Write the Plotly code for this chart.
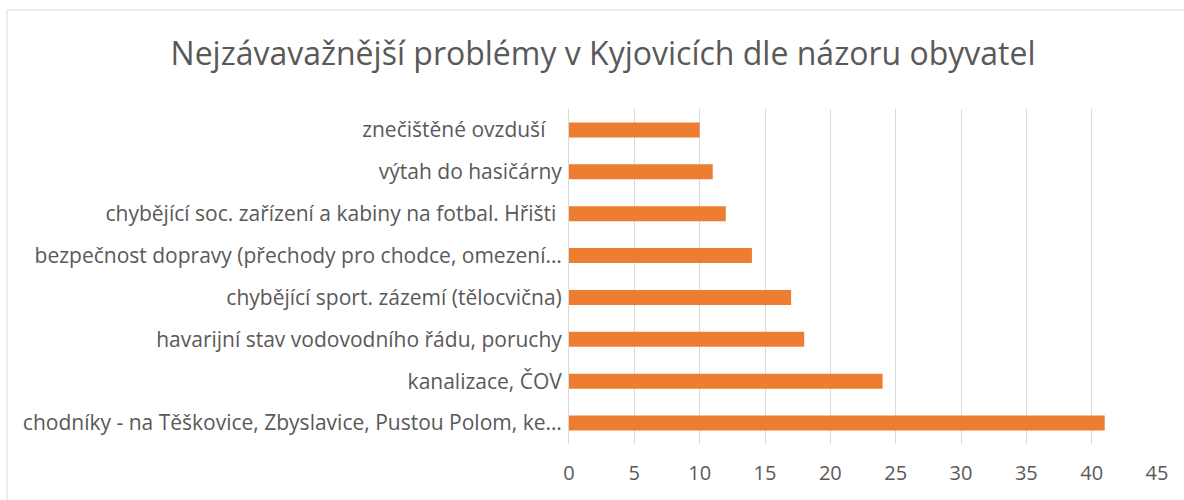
import plotly.graph_objects as go

categories = [
    "chodníky - na Těškovice, Zbyslavice, Pustou Polom, ke…",
    "kanalizace, ČOV",
    "havarijní stav vodovodního řádu, poruchy",
    "chybějící sport. zázemí (tělocvična)",
    "bezpečnost dopravy (přechody pro chodce, omezení…",
    "chybějící soc. zařízení a kabiny na fotbal. Hřišti\u00a0",
    "výtah do hasičárny",
    "znečištěné ovzduší\u00a0\u00a0\u00a0",
]
values = [41, 24, 18, 17, 14, 12, 11, 10]
x_ticks = [0, 5, 10, 15, 20, 25, 30, 35, 40, 45]

title = "Nejzávavažnější problémy v Kyjovicích dle názoru obyvatel"

fig = go.Figure(
    go.Bar(
        x=values,
        y=categories,
        orientation="h",
        marker=dict(color="#ED7D31", line=dict(width=0)),
        hoverinfo="x+y",
    )
)

W, H = 1184, 500
L, R, T, B = 569, 27, 109, 56
pw, ph = W - L - R, H - T - B

def px_x(p):
    return (p - L) / pw

def px_y(p):
    return (H - B - p) / ph

FONT = "Open Sans, Noto Sans, sans-serif"

fig.update_layout(
    width=W,
    height=H,
    margin=dict(l=L, r=R, t=T, b=B, pad=0),
    paper_bgcolor="white",
    plot_bgcolor="white",
    bargap=0.64,
    showlegend=False,
    font=dict(family=FONT, color="#595959", size=21),
    title=dict(
        text=title,
        x=603 / W,
        xanchor="center",
        y=1 - 54 / H,
        yanchor="middle",
        font=dict(size=32, color="#595959", family=FONT),
    ),
    xaxis=dict(
        range=[0, 45],
        tickvals=x_ticks,
        showgrid=True,
        gridcolor="#D9D9D9",
        gridwidth=1,
        zeroline=False,
        showline=False,
        ticks="",
        ticklabelstandoff=15,
        tickfont=dict(size=20, color="#595959"),
        fixedrange=True,
    ),
    yaxis=dict(
        showgrid=False,
        zeroline=False,
        showline=True,
        linecolor="#D9D9D9",
        linewidth=1,
        ticks="",
        ticklabelstandoff=2,
        tickfont=dict(size=21, color="#595959"),
        fixedrange=True,
    ),
    shapes=[
        dict(
            type="rect",
            xref="paper",
            yref="paper",
            x0=px_x(7),
            x1=px_x(1200),
            y0=px_y(520),
            y1=px_y(10),
            line=dict(color="#D9D9D9", width=1),
            fillcolor="rgba(0,0,0,0)",
            layer="below",
        )
    ],
)

fig.write_html(
    "out.html",
    config={"displayModeBar": False},
    post_script="document.body.style.margin='0';document.body.style.overflow='hidden';",
)
